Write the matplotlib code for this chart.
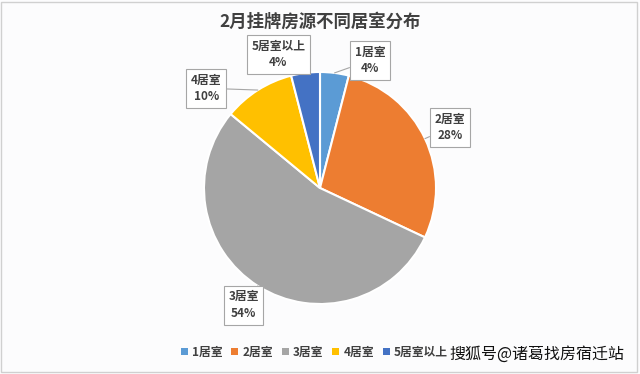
import matplotlib
matplotlib.use("Agg")
import matplotlib.pyplot as plt
from matplotlib.patches import Rectangle
import numpy as np

plt.rcParams['font.family'] = ['Noto Sans CJK SC', 'DejaVu Sans']

categories = ['1居室', '2居室', '3居室', '4居室', '5居室以上']
values = [4, 28, 54, 10, 4]
pct_labels = ['4%', '28%', '54%', '10%', '4%']
colors = ['#5B9BD5', '#ED7D31', '#A5A5A5', '#FFC000', '#4472C4']
title = '2月挂牌房源不同居室分布'
legend_labels = ['1居室', '2居室', '3居室', '4居室', '5居室以上']
watermark = '搜狐号@诸葛找房宿迁站'

W, H = 640, 374
cx, cy, R = 320, 188, 116

fig = plt.figure(figsize=(W / 100, H / 100), dpi=100)
fig.patch.set_facecolor('#fcfcfd')
ax = fig.add_axes([0, 0, 1, 1])

wedges, _ = ax.pie(values, colors=colors, startangle=90, counterclock=False,
                   radius=1, center=(0, 0), frame=True,
                   wedgeprops=dict(edgecolor='white', linewidth=1.5))
ax.set_xlim(-cx / R, (W - cx) / R)
ax.set_ylim((cy - H) / R, cy / R)
ax.set_aspect('auto')
ax.axis('off')

# label positions (data units)
label_pos = [(0.43, 1.10), (1.12, 0.52), (-0.66, -1.01), (-0.98, 0.86), (-0.36, 1.15)]
cum = np.cumsum([0] + values)
for i, (cat, pct) in enumerate(zip(categories, pct_labels)):
    mid = 90 - 360 * (cum[i] + values[i] / 2) / sum(values)
    ang = np.deg2rad(mid)
    px, py = np.cos(ang) * 1.0, np.sin(ang) * 1.0
    ax.annotate(f'{cat}\n{pct}', xy=(px, py), xytext=label_pos[i],
                ha='center', va='center', fontsize=8.5, fontweight='bold',
                color='#404040', linespacing=1.35,
                bbox=dict(boxstyle='square,pad=0.4', fc='white', ec='#a6a6a6', lw=0.8),
                arrowprops=dict(arrowstyle='-', color='#a6a6a6', lw=0.8,
                                shrinkA=0, shrinkB=0))

fig.text(0.5, 1 - 22 / H, title, ha='center', va='center', fontsize=12.5,
         fontweight='bold', color='#404040')

handles = [Rectangle((0, 0), 1, 1, fc=c) for c in colors]
leg = fig.legend(handles, legend_labels, loc='center left',
                 bbox_to_anchor=(170 / W, 1 - 352 / H),
                 ncol=5, frameon=False, handlelength=0.6, handleheight=0.6,
                 handletextpad=0.35, columnspacing=0.75, labelcolor='#404040',
                 prop=dict(weight='bold', size=8.5))

fig.text(624 / W, 1 - 354 / H, watermark, ha='right', va='center', fontsize=11.5,
         color='#111111', zorder=10)

fig.patches.append(Rectangle((0.002, 0.006), 0.994, 0.988, transform=fig.transFigure,
                             fill=False, ec='#d0d0d0', lw=1))

fig.savefig('out.png', dpi=100, facecolor=fig.get_facecolor())
